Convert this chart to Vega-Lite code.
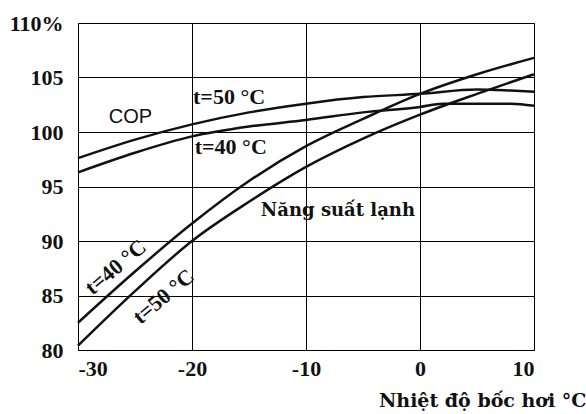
{
  "$schema": "https://vega.github.io/schema/vega-lite/v6.json",
  "width": 456,
  "height": 327,
  "autosize": {"type": "none"},
  "padding": {"left": 78, "top": 23, "right": 52, "bottom": 64},
  "config": {"view": {"stroke": "#444", "strokeWidth": 1}},
  "datasets": {
    "lines": [
      {"series": "COP t=50", "t": -30, "v": 97.6}, {"series": "COP t=50", "t": -25, "v": 99.3}, {"series": "COP t=50", "t": -20, "v": 100.7}, {"series": "COP t=50", "t": -15, "v": 101.8}, {"series": "COP t=50", "t": -10, "v": 102.6}, {"series": "COP t=50", "t": -5, "v": 103.2}, {"series": "COP t=50", "t": 0, "v": 103.5}, {"series": "COP t=50", "t": 5, "v": 103.9}, {"series": "COP t=50", "t": 8, "v": 103.8}, {"series": "COP t=50", "t": 10, "v": 103.7},
      {"series": "COP t=40", "t": -30, "v": 96.3}, {"series": "COP t=40", "t": -25, "v": 98.1}, {"series": "COP t=40", "t": -20, "v": 99.6}, {"series": "COP t=40", "t": -15, "v": 100.5}, {"series": "COP t=40", "t": -10, "v": 101.1}, {"series": "COP t=40", "t": -5, "v": 101.8}, {"series": "COP t=40", "t": 0, "v": 102.3}, {"series": "COP t=40", "t": 2, "v": 102.6}, {"series": "COP t=40", "t": 8, "v": 102.6}, {"series": "COP t=40", "t": 10, "v": 102.4},
      {"series": "Q t=40", "t": -30, "v": 82.5}, {"series": "Q t=40", "t": -25, "v": 87.2}, {"series": "Q t=40", "t": -20, "v": 91.6}, {"series": "Q t=40", "t": -15, "v": 95.5}, {"series": "Q t=40", "t": -10, "v": 98.7}, {"series": "Q t=40", "t": -5, "v": 101.2}, {"series": "Q t=40", "t": 0, "v": 103.5}, {"series": "Q t=40", "t": 5, "v": 105.3}, {"series": "Q t=40", "t": 10, "v": 106.8},
      {"series": "Q t=50", "t": -30, "v": 80.4}, {"series": "Q t=50", "t": -25, "v": 85.4}, {"series": "Q t=50", "t": -20, "v": 90.0}, {"series": "Q t=50", "t": -15, "v": 93.6}, {"series": "Q t=50", "t": -10, "v": 96.8}, {"series": "Q t=50", "t": -5, "v": 99.4}, {"series": "Q t=50", "t": 0, "v": 101.6}, {"series": "Q t=50", "t": 5, "v": 103.5}, {"series": "Q t=50", "t": 10, "v": 105.3}
    ],
    "labels": [
      {"kind": "sans", "text": "COP", "t": -25.4, "v": 101.4},
      {"kind": "serif", "text": "t=50 °C", "t": -16.75, "v": 103.2},
      {"kind": "serif", "text": "t=40 °C", "t": -16.6, "v": 98.6},
      {"kind": "wide", "text": "Năng suất lạnh", "t": -7.2, "v": 92.75},
      {"kind": "rot", "text": "t=40 °C", "t": -26.7, "v": 87.6},
      {"kind": "rot", "text": "t=50 °C", "t": -22.5, "v": 84.9}
    ]
  },
  "layer": [
    {
      "data": {"name": "lines"},
      "mark": {"type": "line", "color": "#111", "strokeWidth": 2.5, "interpolate": "monotone"},
      "encoding": {
        "x": {"field": "t", "type": "quantitative", "scale": {"domain": [-30, 10], "nice": false},
          "axis": {"values": [-30, -20, -10, 0, 10], "grid": true, "gridColor": "#000", "gridWidth": 1, "gridOpacity": 1,
            "domain": false, "ticks": false,
            "labelFont": "Liberation Serif", "labelFontWeight": "bold", "labelFontSize": 22, "labelColor": "#111",
            "labelExpr": "replace(datum.label, '−', '-')",
            "labelPadding": 8, "labelDx": 3,
            "title": "Nhiệt độ bốc hơi °C", "titleFont": "DejaVu Serif", "titleFontWeight": "bold", "titleFontSize": 19,
            "titleColor": "#111", "titleAnchor": "start", "titleAlign": "right", "titleX": 508, "titleY": 56, "titleBaseline": "alphabetic"}},
        "y": {"field": "v", "type": "quantitative", "scale": {"domain": [80, 110], "nice": false, "zero": false},
          "axis": {"values": [80, 85, 90, 95, 100, 105, 110], "grid": true, "gridColor": "#000", "gridWidth": 1, "gridOpacity": 1,
            "domain": false, "ticks": false,
            "labelFont": "Liberation Serif", "labelFontWeight": "bold", "labelFontSize": 22, "labelColor": "#111",
            "labelPadding": 15, "title": null,
            "labelExpr": "datum.value == 110 ? '110%' : datum.label"}},
        "detail": {"field": "series"}
      }
    },
    {
      "data": {"name": "labels"},
      "transform": [{"filter": "datum.kind == 'sans'"}],
      "mark": {"type": "text", "font": "Liberation Sans", "fontSize": 20, "color": "#111", "align": "center", "baseline": "middle"},
      "encoding": {"x": {"field": "t", "type": "quantitative"}, "y": {"field": "v", "type": "quantitative"}, "text": {"field": "text"}}
    },
    {
      "data": {"name": "labels"},
      "transform": [{"filter": "datum.kind == 'serif'"}],
      "mark": {"type": "text", "font": "Liberation Serif", "fontWeight": "bold", "fontSize": 22, "color": "#111", "align": "center", "baseline": "middle"},
      "encoding": {"x": {"field": "t", "type": "quantitative"}, "y": {"field": "v", "type": "quantitative"}, "text": {"field": "text"}}
    },
    {
      "data": {"name": "labels"},
      "transform": [{"filter": "datum.kind == 'wide'"}],
      "mark": {"type": "text", "font": "DejaVu Serif", "fontWeight": "bold", "fontSize": 18, "color": "#111", "align": "center", "baseline": "middle"},
      "encoding": {"x": {"field": "t", "type": "quantitative"}, "y": {"field": "v", "type": "quantitative"}, "text": {"field": "text"}}
    },
    {
      "data": {"name": "labels"},
      "transform": [{"filter": "datum.kind == 'rot'"}],
      "mark": {"type": "text", "font": "Liberation Serif", "fontWeight": "bold", "fontSize": 22, "color": "#111", "align": "center", "baseline": "middle", "angle": -40},
      "encoding": {"x": {"field": "t", "type": "quantitative"}, "y": {"field": "v", "type": "quantitative"}, "text": {"field": "text"}}
    }
  ]
}
